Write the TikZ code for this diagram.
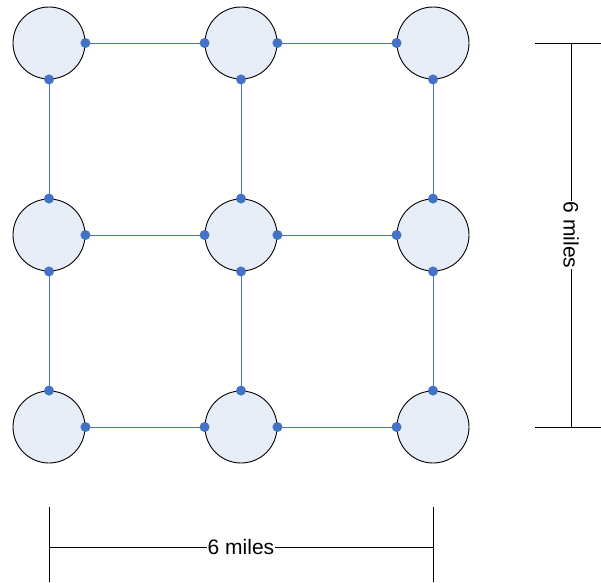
\documentclass[tikz,border=0pt]{standalone}
\usepackage{fontspec}
\setmainfont{Liberation Sans}
\definecolor{cfill}{HTML}{E6EDF7}
\definecolor{cblue}{HTML}{4472C4}
\begin{document}
\begin{tikzpicture}[x=1pt,y=-1pt,
  site/.style={circle,draw=black,fill=cfill,line width=0.9pt,minimum size=72pt,inner sep=0pt},
  link/.style={draw=cblue,line width=1pt},
  dot/.style={fill=cblue},
  dim/.style={draw=black,line width=0.9pt},
  lbl/.style={fill=white,inner sep=0.5pt,font=\fontsize{21}{23}\selectfont}]
\useasboundingbox (0,0) rectangle (601,582);
\foreach \r/\y in {1/43,2/235,3/427}{
  \foreach \c/\x in {1/49,2/241,3/433}{
    \node[site] (c\r\c) at (\x,\y) {};
  }
}
\foreach \r in {1,2,3}{
  \draw[link] (c\r1.east) -- (c\r2.west);
  \draw[link] (c\r2.east) -- (c\r3.west);
  \foreach \a in {1,2}{\fill[dot] (c\r\a.east) circle (5pt);}
  \foreach \a in {2,3}{\fill[dot] (c\r\a.west) circle (5pt);}
}
\foreach \c in {1,2,3}{
  \draw[link] (c1\c.south) -- (c2\c.north);
  \draw[link] (c2\c.south) -- (c3\c.north);
  \foreach \a in {1,2}{\fill[dot] (c\a\c.south) circle (5pt);}
  \foreach \a in {2,3}{\fill[dot] (c\a\c.north) circle (5pt);}
}
% right dimension
\coordinate (rt1) at (535,43);
\coordinate (rt2) at (601,43);
\coordinate (rb1) at (535,427);
\coordinate (rb2) at (601,427);
\coordinate (rv1) at (571,43);
\coordinate (rv2) at (571,427);
\draw[dim] (rt1) -- (rt2);
\draw[dim] (rb1) -- (rb2);
\draw[dim] (rv1) -- (rv2);
\node[lbl,rotate=-90] (rl) at (571,235) {6 miles};
% bottom dimension
\coordinate (bl1) at (49,507);
\coordinate (bl2) at (49,582);
\coordinate (br1) at (433,507);
\coordinate (br2) at (433,582);
\coordinate (bh1) at (49,547);
\coordinate (bh2) at (433,547);
\draw[dim] (bl1) -- (bl2);
\draw[dim] (br1) -- (br2);
\draw[dim] (bh1) -- (bh2);
\node[lbl] (bl) at (241,547) {6 miles};
\end{tikzpicture}
\end{document}
